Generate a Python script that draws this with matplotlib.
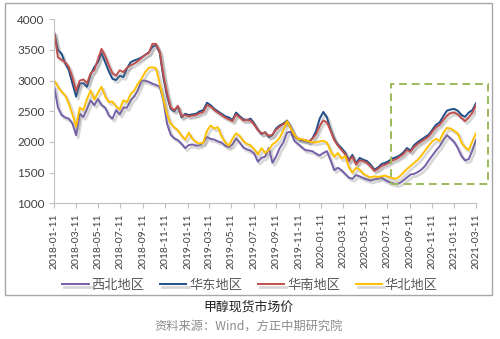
import numpy as np
import pandas as pd
import matplotlib
matplotlib.use("Agg")
import matplotlib.pyplot as plt
import matplotlib.patheffects as pe
from matplotlib.patches import Rectangle

plt.rcParams['font.family'] = ['Noto Sans CJK SC', 'DejaVu Sans']

# 10-day sampling from 2018-01-11 to 2021-03-11
dates = pd.date_range('2018-01-11', '2021-03-11', periods=117)

xibei = [2900, 2560, 2440, 2400, 2380, 2300, 2110, 2460, 2410, 2540,
         2680, 2600, 2700, 2600, 2560, 2430, 2380, 2520, 2450, 2560,
         2560, 2680, 2740, 2850, 3000, 3000, 2980, 2950, 2930, 2900,
         2680, 2300, 2120, 2060, 2030, 1970, 1900, 1950, 1960, 1940,
         1945, 1990, 2080, 2050, 2040, 2010, 1990, 1940, 1915, 1960,
         2060, 1990, 1910, 1880, 1860, 1810, 1680, 1740, 1760, 1900,
         1660, 1760, 1900, 1990, 2150, 2170, 2020, 1970, 1920, 1870,
         1860, 1850, 1810, 1780, 1820, 1850, 1700, 1540, 1580, 1540,
         1480, 1420, 1400, 1460, 1440, 1410, 1390, 1370, 1390, 1400,
         1420, 1380, 1350, 1330, 1315, 1330, 1370, 1420, 1470, 1480,
         1510, 1550, 1610, 1700, 1780, 1860, 1930, 2030, 2110, 2060,
         2000, 1900, 1770, 1700, 1720, 1860, 2030]

huadong = [3775, 3500, 3440, 3280, 3170, 2950, 2740, 2950, 2960, 2900,
           3100, 3220, 3300, 3450, 3300, 3150, 3030, 3010, 3080, 3060,
           3200, 3300, 3330, 3350, 3380, 3420, 3460, 3550, 3580, 3450,
           3050, 2750, 2540, 2500, 2580, 2400, 2460, 2440, 2450, 2460,
           2500, 2520, 2640, 2600, 2540, 2500, 2460, 2420, 2400, 2360,
           2480, 2420, 2370, 2360, 2380, 2300, 2200, 2130, 2160, 2080,
           2110, 2220, 2270, 2300, 2350, 2250, 2100, 2050, 2030, 2020,
           2000, 2060, 2180, 2380, 2490, 2400, 2200, 2050, 1960, 1900,
           1830, 1700, 1790, 1650, 1740, 1710, 1690, 1630, 1550, 1580,
           1640, 1660, 1690, 1730, 1750, 1780, 1830, 1900, 1860, 1950,
           2000, 2040, 2080, 2120, 2200, 2280, 2320, 2420, 2510, 2530,
           2540, 2510, 2440, 2410, 2480, 2520, 2630]

huanan = [3770, 3380, 3340, 3300, 3220, 3050, 2830, 3000, 3020, 2960,
          3120, 3170, 3350, 3520, 3400, 3250, 3120, 3080, 3170, 3140,
          3210, 3250, 3280, 3320, 3370, 3420, 3450, 3600, 3600, 3470,
          3100, 2800, 2560, 2520, 2590, 2420, 2440, 2420, 2430, 2440,
          2470, 2490, 2600, 2580, 2520, 2480, 2440, 2400, 2370, 2340,
          2450, 2400, 2350, 2360, 2350, 2280, 2190, 2140, 2150, 2100,
          2120, 2200, 2250, 2290, 2330, 2230, 2110, 2060, 2040, 2030,
          2010, 2050, 2130, 2260, 2350, 2320, 2180, 2030, 1940, 1870,
          1800, 1690, 1760, 1630, 1700, 1690, 1660, 1600, 1530, 1560,
          1610, 1630, 1660, 1700, 1720, 1760, 1800, 1870, 1840, 1920,
          1970, 2010, 2050, 2090, 2170, 2240, 2280, 2360, 2430, 2470,
          2480, 2450, 2390, 2340, 2400, 2480, 2600]

huabei = [3000, 2900, 2820, 2760, 2620, 2450, 2250, 2560, 2520, 2700,
          2840, 2690, 2800, 2900, 2740, 2650, 2660, 2580, 2530, 2680,
          2650, 2780, 2840, 2950, 3030, 3140, 3210, 3220, 3200, 2950,
          2700, 2450, 2300, 2240, 2190, 2100, 2040, 2150, 2050, 2000,
          1975, 1990, 2180, 2270, 2220, 2240, 2090, 1995, 1940, 2050,
          2140, 2100, 2010, 1970, 1945, 1880, 1800, 1900, 1820, 1870,
          1960, 2000, 2070, 2190, 2340, 2230, 2120, 2050, 2050, 2030,
          2010, 1995, 1995, 2010, 2020, 1990, 1850, 1760, 1820, 1730,
          1770, 1590, 1500, 1580, 1550, 1480, 1450, 1420, 1440, 1430,
          1440, 1450, 1430, 1410, 1400, 1440, 1500, 1560, 1610, 1660,
          1710, 1780, 1860, 1940, 2010, 2050, 2020, 2150, 2230, 2220,
          2180, 2140, 1990, 1910, 1870, 2010, 2140]

series = [('西北地区', xibei, '#7460a8'),
          ('华东地区', huadong, '#1f4e8a'),
          ('华南地区', huanan, '#c0504d'),
          ('华北地区', huabei, '#ffc000')]

xtick_labels = ['2018-01-11', '2018-03-11', '2018-05-11', '2018-07-11', '2018-09-11',
                '2018-11-11', '2019-01-11', '2019-03-11', '2019-05-11', '2019-07-11',
                '2019-09-11', '2019-11-11', '2020-01-11', '2020-03-11', '2020-05-11',
                '2020-07-11', '2020-09-11', '2020-11-11', '2021-01-11', '2021-03-11']
yticks = [1000, 1500, 2000, 2500, 3000, 3500, 4000]

# highlighted recent period
box_start, box_end = '2020-07-21', '2021-04-12'
box_low, box_high = 1310, 2950

fig = plt.figure(figsize=(5, 3.39), dpi=100)
ax = fig.add_axes([0.1086, 0.4003, 0.8434, 0.5427])

shadow = [pe.SimpleLineShadow(offset=(1.5, -1.8), shadow_color='#808080', alpha=0.3, linewidth=2.0),
          pe.Normal()]

for name, vals, color in series:
    ax.plot(dates, vals, color=color, linewidth=1.4, label=name, path_effects=shadow)

x0 = matplotlib.dates.date2num(pd.Timestamp(box_start))
x1 = matplotlib.dates.date2num(pd.Timestamp(box_end))
box = Rectangle((x0, box_low), x1 - x0, box_high - box_low, fill=False,
                edgecolor='#9bbb59', linewidth=1.4, linestyle=(0, (4, 2.5)),
                clip_on=False, zorder=5)
ax.add_patch(box)

ax.set_ylim(1000, 4000)
ax.set_yticks(yticks)
tick_dates = pd.to_datetime(xtick_labels)
ax.set_xlim(tick_dates[0], tick_dates[-1])
ax.set_xticks(tick_dates)
ax.set_xticklabels(xtick_labels, rotation=90, fontsize=7.5, color='#404040', family='Lato')
for lbl in ax.get_yticklabels():
    lbl.set_fontsize(8.5)
    lbl.set_color('#404040')
    lbl.set_family('Lato')

for s in ['top', 'right']:
    ax.spines[s].set_visible(False)
for s in ['left', 'bottom']:
    ax.spines[s].set_color('#bfbfbf')
    ax.spines[s].set_linewidth(0.8)
ax.tick_params(axis='both', colors='#bfbfbf', length=3.5, width=0.8, labelcolor='#404040')

fig.legend(loc='center', bbox_to_anchor=(0.5, 0.158), ncol=4, frameon=False,
           handlelength=2.0, handletextpad=0.2, columnspacing=1.2,
           prop={'size': 9.5}, labelcolor='#595959')

# outer frame of the chart
fig.patches.append(Rectangle((5 / 500, 1 - 295 / 339), 487 / 500, 292 / 339,
                             transform=fig.transFigure, fill=False,
                             edgecolor='#a6a6a6', linewidth=1.0))

fig.text(0.497, 0.095, '甲醇现货市场价', ha='center', va='center', fontsize=9.3, color='#202020')
fig.text(0.497, 0.036, '资料来源：Wind，方正中期研究院', ha='center', va='center',
         fontsize=8.8, color='#8c8c8c')

fig.savefig('out.png', dpi=100)
